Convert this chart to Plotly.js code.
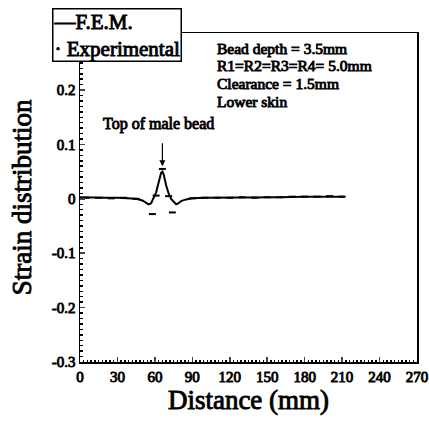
<!DOCTYPE html>
<html>
<head>
<meta charset="utf-8">
<script src="https://cdn.plot.ly/plotly-3.0.1.min.js"></script>
<style>
html,body{margin:0;padding:0;background:#fff;}
#chart{width:429px;height:425px;}
#chart svg text{stroke:#000 !important;stroke-width:0.9px !important;}
</style>
</head>
<body>
<div id="chart"></div>
<script>
// FEM prediction
const femX = [0,10,20,30,40,45,50,53,55,57,59,61,63,65,66,67,69,71,73,75,77,79,81,85,90,100,120,140,160,180,200,212];
const femY = [0.003,0.002,0.002,0.002,0.001,0.0,-0.003,-0.007,-0.01,-0.008,0.002,0.012,0.03,0.048,0.05,0.045,0.025,0.01,0.0,-0.006,-0.01,-0.008,-0.004,-0.001,0.001,0.002,0.002,0.003,0.003,0.004,0.004,0.004];
// Experimental measurements
const expX = [5,15,25,35,45,58,61,66,71,74,90,100,110,120,130,140,150,160,170,180,190,200,210];
const expY = [0.002,0.002,0.001,0.002,0.0,-0.028,0.006,0.055,0.005,-0.025,0.001,0.002,0.002,0.002,0.003,0.002,0.003,0.003,0.004,0.004,0.004,0.005,0.004];
const xTicks = [0,30,60,90,120,150,180,210,240,270];
const yTicks = [-0.3,-0.2,-0.1,0,0.1,0.2];
const yTickText = ['-0.3','-0.2','-0.1','0','0.1','0.2'];
const specLines = ['Bead depth = 3.5mm', 'R1=R2=R3=R4= 5.0mm', 'Clearance = 1.5mm', 'Lower skin'];
const legendText = '\u2014F.E.M.<br>\u00B7 Experimental';

const serif = 'Liberation Serif';
const traces = [
  {x: femX, y: femY, mode: 'lines', name: 'F.E.M.', line: {color: '#000', width: 2}},
  {x: expX, y: expY, mode: 'markers', name: 'Experimental',
   marker: {symbol: 'line-ew', size: 5, color: '#000', line: {color: '#000', width: 2}}}
];
const anns = [
  {xref: 'x', yref: 'y', x: 63, y: 0.137, showarrow: false, text: 'Top of male bead',
   font: {family: serif, size: 16, color: '#000'}},
  {xref: 'x', yref: 'y', x: 66, y: 0.06, axref: 'x', ayref: 'y', ax: 66, ay: 0.105, text: '',
   showarrow: true, arrowhead: 2, arrowsize: 1, arrowwidth: 1.2, arrowcolor: '#000'},
  {xref: 'paper', yref: 'paper', x: -0.083, y: 1.077, xanchor: 'left', yanchor: 'top', align: 'left', showarrow: false,
   text: legendText, bgcolor: '#fff', bordercolor: '#000', borderwidth: 1.5, borderpad: 0,
   font: {family: serif, size: 21, color: '#000'}}
];
specLines.forEach(function (t, i) {
  anns.push({xref: 'paper', yref: 'paper', x: 0.405, y: 1 - (15 + i * 17.6) / 327, xanchor: 'left', yanchor: 'middle',
             align: 'left', showarrow: false, text: t, borderpad: 0,
             font: {family: serif, size: 15.5, color: '#000'}});
});
const layout = {
  width: 429, height: 425,
  margin: {l: 80, r: 12, t: 33, b: 63},
  paper_bgcolor: '#fff', plot_bgcolor: '#fff',
  showlegend: false,
  xaxis: {range: [0, 270], tickvals: xTicks, ticks: 'inside', ticklen: 5, tickwidth: 1.5,
          showline: true, linecolor: '#000', linewidth: 1.5, mirror: true, showgrid: false, zeroline: false,
          tickfont: {family: serif, size: 15, color: '#000'},
          minor: {dtick: 3, ticks: 'inside', ticklen: 2.5, tickcolor: '#000', showgrid: false},
          title: {text: 'Distance (mm)', font: {family: serif, size: 27, color: '#000'}, standoff: 6}},
  yaxis: {range: [-0.3, 0.305], tickvals: yTicks, ticktext: yTickText, ticks: 'inside', ticklen: 5, tickwidth: 1.5,
          showline: true, linecolor: '#000', linewidth: 1.5, mirror: true, showgrid: false, zeroline: false,
          tickfont: {family: serif, size: 15, color: '#000'},
          minor: {dtick: 0.01, ticks: 'inside', ticklen: 2.5, tickcolor: '#000', showgrid: false},
          title: {text: 'Strain distribution', font: {family: serif, size: 27, color: '#000'}, standoff: 12}},
  annotations: anns
};
Plotly.newPlot('chart', traces, layout, {displayModeBar: false, staticPlot: true});
</script>
</body>
</html>
